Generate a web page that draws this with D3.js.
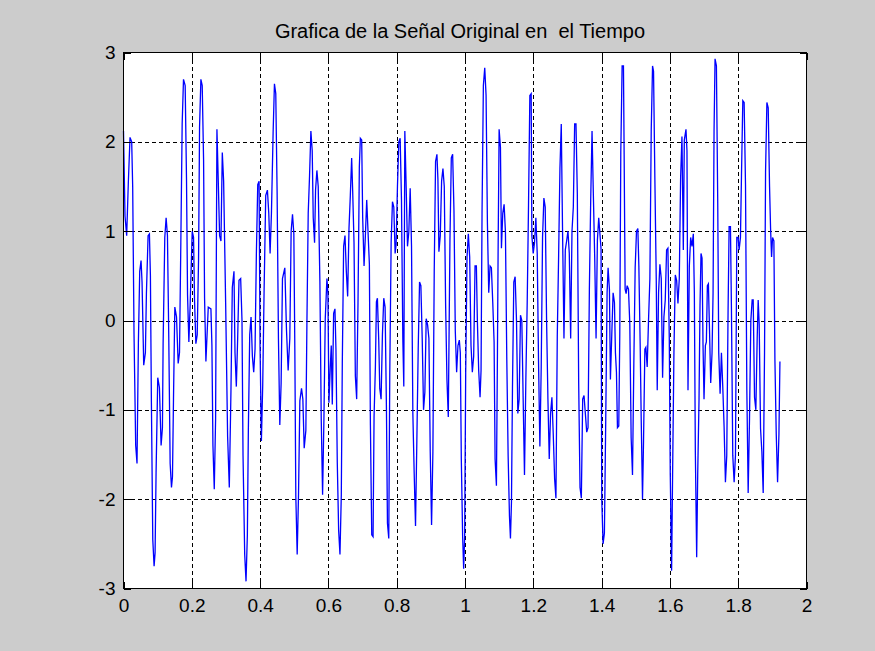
<!DOCTYPE html>
<html>
<head>
<meta charset="utf-8">
<script src="https://cdn.jsdelivr.net/npm/d3@7"></script>
<style>
  html, body { margin: 0; padding: 0; background: #cccccc; }
  svg { display: block; }
</style>
</head>
<body>
<script>
// Muestras de la señal: instante (s) y amplitud
const tiempo = [
  0.0000,0.0044,0.0093,0.0142,0.0191,0.0240,0.0269,0.0308,0.0357,0.0396,0.0436,0.0475,0.0514,0.0543,0.0592,0.0641,0.0671,0.0720,0.0759,0.0788,
  0.0817,0.0857,0.0896,0.0925,0.0954,0.1003,0.1052,0.1101,0.1140,0.1160,0.1209,0.1248,0.1287,0.1326,0.1366,0.1405,0.1434,0.1464,0.1503,0.1552,
  0.1601,0.1640,0.1679,0.1718,0.1757,0.1806,0.1845,0.1875,0.1914,0.1953,0.2012,0.2051,0.2080,0.2119,0.2159,0.2198,0.2227,0.2266,0.2305,
  0.2345,0.2374,0.2413,0.2482,0.2560,0.2589,0.2619,0.2658,0.2697,0.2736,0.2775,0.2814,0.2854,0.2893,0.2932,0.2991,0.3049,0.3098,0.3147,0.3186,
  0.3235,0.3265,0.3304,0.3343,0.3382,0.3431,0.3470,0.3500,0.3549,0.3588,0.3627,0.3656,0.3696,0.3735,0.3774,0.3813,0.3852,0.3891,0.3931,0.3970,
  0.3999,0.4038,0.4077,0.4116,0.4165,0.4214,0.4254,0.4293,0.4332,0.4381,0.4420,0.4459,0.4498,0.4537,0.4577,0.4616,0.4655,
  0.4724,0.4772,0.4821,0.4870,0.4909,0.4949,0.4988,0.5017,0.5046,0.5086,0.5125,0.5164,0.5213,0.5252,0.5291,0.5340,0.5370,0.5409,0.5448,0.5487,
  0.5526,0.5556,0.5595,0.5624,0.5663,0.5702,0.5751,0.5790,0.5830,0.5869,0.5908,0.5957,0.5986,0.6016,0.6055,0.6084,0.6114,0.6153,0.6192,0.6221,
  0.6260,0.6300,0.6339,0.6378,0.6407,0.6446,0.6486,0.6525,0.6564,0.6603,0.6642,0.6681,0.6711,0.6750,0.6789,0.6828,0.6867,0.6906,0.6936,0.6975,
  0.7004,0.7044,0.7083,0.7122,
  0.7200,0.7230,0.7269,0.7308,0.7337,0.7376,0.7406,0.7435,0.7474,0.7504,0.7543,0.7582,0.7621,0.7660,0.7700,0.7729,0.7768,0.7797,0.7837,0.7876,
  0.7915,0.7954,0.7983,0.8022,0.8062,0.8101,0.8140,0.8179,0.8208,0.8238,0.8277,0.8316,0.8355,0.8395,0.8434,0.8473,0.8512,0.8551,0.8590,0.8630,
  0.8669,0.8708,0.8747,0.8786,0.8825,0.8864,0.8904,0.8943,0.8982,0.9021,0.9060,0.9099,0.9138,0.9178,0.9207,0.9236,0.9276,0.9315,0.9354,0.9393,
  0.9432,0.9471,0.9511,
  0.9559,0.9599,0.9638,0.9677,0.9716,0.9755,0.9794,0.9834,0.9863,0.9892,0.9931,0.9961,0.9990,1.0020,1.0059,1.0098,1.0137,1.0176,1.0215,1.0254,
  1.0294,1.0333,1.0362,1.0401,1.0441,1.0470,1.0499,1.0538,1.0578,1.0617,1.0656,1.0695,1.0734,1.0773,1.0813,1.0852,1.0881,1.0920,1.0950,1.0969,
  1.0999,1.1038,1.1067,1.1106,1.1145,1.1184,1.1224,1.1263,1.1302,1.1331,1.1361,1.1390,1.1429,1.1468,1.1508,1.1547,1.1586,1.1625,1.1664,1.1703,
  1.1742,1.1782,1.1821,1.1860,1.1899,1.1938,
  1.1958,1.1997,1.2036,1.2075,1.2115,1.2154,1.2193,1.2232,1.2271,1.2310,1.2349,1.2389,1.2428,1.2467,1.2506,1.2545,1.2584,1.2624,1.2663,1.2702,
  1.2741,1.2780,1.2819,1.2859,1.2898,1.2937,1.2976,1.3015,1.3054,1.3094,1.3133,1.3172,1.3211,1.3250,1.3289,1.3329,1.3368,1.3407,1.3446,1.3485,
  1.3524,1.3564,1.3603,1.3642,1.3681,1.3720,1.3759,1.3798,1.3838,1.3877,1.3916,1.3955,1.3984,1.4004,1.4043,1.4082,1.4121,1.4161,1.4190,1.4229,
  1.4258,1.4298,1.4337,
  1.4376,1.4405,1.4435,1.4464,1.4503,1.4532,1.4562,1.4601,1.4640,1.4660,1.4689,1.4718,1.4748,1.4787,1.4826,1.4865,1.4905,1.4944,1.4983,1.5022,
  1.5061,1.5091,1.5130,1.5159,1.5198,1.5228,1.5267,1.5296,1.5335,1.5374,1.5414,1.5453,1.5492,1.5521,1.5560,1.5600,1.5629,1.5668,1.5707,1.5747,
  1.5786,1.5825,1.5864,1.5903,1.5942,1.5982,1.6011,1.6050,1.6079,1.6118,1.6158,1.6197,1.6236,1.6275,1.6314,1.6353,1.6393,1.6422,1.6471,1.6500,
  1.6530,1.6569,1.6608,1.6647,1.6686,1.6716,1.6745,
  1.6784,1.6814,1.6853,1.6882,1.6911,1.6941,1.6970,1.6999,1.7039,1.7068,1.7097,1.7127,1.7156,1.7195,1.7234,1.7264,1.7293,1.7322,1.7362,1.7401,
  1.7430,1.7470,1.7509,1.7548,1.7587,1.7626,1.7665,1.7704,1.7734,1.7773,1.7802,1.7841,1.7881,1.7920,1.7959,1.7998,1.8027,1.8066,1.8096,1.8135,
  1.8174,1.8214,1.8253,1.8292,1.8331,1.8370,1.8409,1.8439,1.8478,1.8517,1.8556,1.8585,1.8615,1.8654,1.8693,1.8732,1.8771,1.8801,1.8840,1.8879,
  1.8918,1.8948,1.8977,1.9006,1.9045,1.9075,1.9114,1.9153,1.9193,1.9222
];

const amplitud = [
  2.12,1.17,0.95,1.55,2.05,2.00,1.50,-0.15,-1.40,-1.60,-0.25,0.55,0.67,0.43,-0.50,-0.36,0.30,0.95,0.97,0.50,
  -0.92,-2.45,-2.75,-2.60,-1.70,-0.64,-0.75,-1.40,-1.20,-0.26,0.93,1.15,0.95,-0.20,-1.60,-1.87,-1.75,-0.88,0.15,0.04,
  -0.48,-0.36,0.87,2.20,2.70,2.63,1.58,0.29,-0.24,0.19,1.00,0.93,0.23,-0.26,-0.16,0.69,2.16,2.70,2.63,
  1.80,0.25,-0.46,0.15,0.13,-0.28,-1.40,-1.89,-1.10,2.14,1.56,0.95,0.89,1.88,1.56,0.20,-1.30,-1.87,-0.78,0.37,
  0.55,-0.36,-0.74,-0.20,0.45,0.47,0.00,-1.51,-2.62,-2.92,-2.40,-1.23,-0.16,0.04,-0.40,-0.58,-0.32,0.75,1.52,1.56,
  -0.30,-1.35,-0.72,0.31,1.40,1.46,1.20,0.75,1.20,2.10,2.65,2.54,1.44,-0.20,-1.17,-0.70,0.47,
  0.59,-0.10,-0.56,-0.20,1.00,1.19,0.97,-0.32,-1.97,-2.62,-1.95,-0.90,-0.76,-0.88,-1.43,-1.23,-0.06,1.20,1.62,2.12,
  1.90,1.15,0.87,1.46,1.68,1.50,0.43,-1.10,-1.95,-1.10,0.02,0.47,0.30,-0.92,-0.52,-0.28,-0.94,0.08,0.13,-0.32,
  -1.59,-2.35,-2.62,-1.95,-0.48,0.83,0.95,0.55,0.27,1.03,1.40,1.82,1.45,0.87,-0.62,-0.88,0.20,1.72,2.04,2.02,
  1.15,0.61,0.95,1.35,
  0.63,-1.17,-2.40,-2.42,-1.08,-0.52,0.21,0.25,-0.22,-0.76,-0.88,-0.16,0.25,0.15,-1.00,-2.27,-2.44,-0.60,0.87,1.33,
  1.27,0.75,0.85,1.50,2.00,2.04,1.35,-0.20,-0.74,2.12,1.50,0.83,0.99,1.48,0.83,-1.04,-1.71,-2.30,-1.35,-0.32,
  0.43,0.39,-0.20,-1.00,-0.80,0.02,-0.05,-0.20,-1.47,-2.29,-1.47,0.55,1.78,1.86,1.58,0.77,0.95,1.56,1.70,1.50,
  0.19,-0.66,-1.08,
  0.89,1.82,1.86,1.23,-0.12,-0.58,-0.28,-0.22,-0.36,-1.55,-2.42,-2.78,-2.42,-0.60,0.71,0.97,0.71,-0.28,-0.58,-0.40,
  0.61,0.61,0.00,-0.56,-0.86,-0.56,1.20,2.63,2.83,2.52,1.10,0.31,0.61,0.59,0.20,-0.24,-1.55,-1.85,-0.36,0.75,
  2.14,1.94,0.81,1.20,1.30,0.99,-0.44,-1.51,-2.19,-2.44,-2.03,-0.76,0.43,0.49,0.00,-1.04,-0.88,0.06,0.00,-0.88,
  -1.73,-0.66,0.19,1.29,2.52,2.54,
  0.95,0.75,0.87,1.15,0.75,-0.48,-1.41,-0.52,0.93,1.37,1.27,0.00,-0.88,-1.55,-1.04,-0.86,-1.27,-1.77,-1.99,-0.18,
  0.71,1.70,2.20,0.93,-0.20,0.79,0.89,1.00,0.75,-0.20,1.00,1.27,2.20,2.20,1.42,-0.70,-1.87,-1.99,-0.88,-0.84,
  -1.04,-1.25,-1.20,0.35,1.35,2.12,1.40,0.71,-0.20,0.90,1.15,0.95,0.80,-1.99,-2.50,-2.38,-1.12,0.31,0.59,0.35,
  -0.66,-0.16,0.31,
  0.20,-0.36,-0.58,-1.20,-1.18,-0.16,1.88,2.85,2.85,1.86,0.35,0.30,0.39,0.35,-0.04,-1.31,-1.73,-0.48,0.59,1.00,
  1.03,0.61,-0.28,-1.08,-2.00,-1.35,-0.32,-0.30,-0.52,0.00,0.47,2.12,2.85,2.79,1.58,0.47,-0.78,0.31,0.63,0.47,
  -0.64,0.04,0.23,0.79,0.81,-0.20,-1.73,-2.80,-1.73,-0.36,0.51,0.45,0.19,0.47,1.60,2.06,0.79,2.02,2.14,1.90,
  -0.78,0.61,0.93,0.83,0.97,0.31,-1.47,
  -2.65,-1.73,-0.88,0.17,0.75,0.70,-0.28,-0.88,-0.28,-0.24,0.39,0.41,-0.04,-0.70,-0.36,0.31,2.12,2.93,2.85,1.31,
  -0.36,-0.82,-0.36,-0.74,-1.19,-1.81,-1.51,0.13,1.05,1.05,0.13,-1.51,-1.81,-1.51,0.93,0.93,0.79,0.93,1.62,2.46,
  2.44,1.52,-0.78,-1.93,-1.10,0.00,0.23,0.23,-0.86,-1.00,-0.20,0.23,-0.04,-1.21,-1.47,-1.93,-0.36,1.66,2.44,2.38,
  1.50,1.03,0.71,0.93,0.89,-0.44,-1.27,-1.81,-1.27,-0.46
];

// Marcas y etiquetas de los ejes
const xTicks = [0, 0.2, 0.4, 0.6, 0.8, 1, 1.2, 1.4, 1.6, 1.8, 2];
const xTickLabels = ["0", "0.2", "0.4", "0.6", "0.8", "1", "1.2", "1.4", "1.6", "1.8", "2"];
const yTicks = [-3, -2, -1, 0, 1, 2, 3];
const yTickLabels = ["-3", "-2", "-1", "0", "1", "2", "3"];
const titulo = "Grafica de la Señal Original en  el Tiempo";

const W = 875, H = 651;
const area = { left: 123.5, right: 806.5, top: 52.5, bottom: 588.5 };

const x = d3.scaleLinear().domain([0, 2]).range([area.left, area.right]);
const y = d3.scaleLinear().domain([-3, 3]).range([area.bottom, area.top]);

const svg = d3.select("body").append("svg")
  .attr("width", W).attr("height", H);

svg.append("rect").attr("width", W).attr("height", H).attr("fill", "#cccccc");

// Fondo blanco de los ejes
svg.append("rect")
  .attr("x", area.left).attr("y", area.top)
  .attr("width", area.right - area.left).attr("height", area.bottom - area.top)
  .attr("fill", "#ffffff");

// Rejilla punteada
const grid = svg.append("g")
  .attr("stroke", "#000").attr("stroke-width", 1)
  .attr("stroke-dasharray", "4,3").attr("shape-rendering", "crispEdges");
grid.selectAll("line.gx").data(xTicks.slice(1, -1)).join("line")
  .attr("class", "gx")
  .attr("x1", d => Math.round(x(d)) + 0.5).attr("x2", d => Math.round(x(d)) + 0.5)
  .attr("y1", area.top).attr("y2", area.bottom);
grid.selectAll("line.gy").data(yTicks.slice(1, -1)).join("line")
  .attr("class", "gy")
  .attr("y1", d => Math.round(y(d)) + 0.5).attr("y2", d => Math.round(y(d)) + 0.5)
  .attr("x1", area.left).attr("x2", area.right);

// Señal
const puntos = tiempo.map((t, i) => [t, amplitud[i]]);
const linea = d3.line().x(d => x(d[0])).y(d => y(d[1]));
svg.append("path")
  .datum(puntos)
  .attr("d", linea)
  .attr("fill", "none")
  .attr("stroke", "#0000ff")
  .attr("stroke-width", 1.3)
  .attr("stroke-linejoin", "miter");

// Ejes con marcas hacia dentro en los cuatro lados
const fuente = "'Liberation Sans', Arial, sans-serif";
const tick = 7;

const ejeX = d3.axisBottom(x).tickValues(xTicks)
  .tickFormat((d, i) => xTickLabels[i]).tickSizeInner(-tick).tickSizeOuter(0).tickPadding(10);
const ejeY = d3.axisLeft(y).tickValues(yTicks)
  .tickFormat((d, i) => yTickLabels[i]).tickSizeInner(-tick).tickSizeOuter(0).tickPadding(8);
const ejeXsup = d3.axisTop(x).tickValues(xTicks).tickFormat("").tickSizeInner(-tick).tickSizeOuter(0);
const ejeYder = d3.axisRight(y).tickValues(yTicks).tickFormat("").tickSizeInner(-tick).tickSizeOuter(0);

function estilo(g) {
  g.attr("shape-rendering", "crispEdges");
  g.select(".domain").remove();
  g.selectAll(".tick line").attr("stroke", "#000");
  g.selectAll(".tick text").attr("fill", "#000")
    .style("font-family", fuente).style("font-size", "19px");
}

svg.append("g").attr("transform", `translate(0,${area.bottom})`).call(ejeX).call(estilo);
svg.append("g").attr("transform", `translate(${area.left},0)`).call(ejeY).call(estilo);
svg.append("g").attr("transform", `translate(0,${area.top})`).call(ejeXsup).call(estilo);
svg.append("g").attr("transform", `translate(${area.right},0)`).call(ejeYder).call(estilo);

// Marco de los ejes
svg.append("rect")
  .attr("x", area.left).attr("y", area.top)
  .attr("width", area.right - area.left).attr("height", area.bottom - area.top)
  .attr("fill", "none").attr("stroke", "#000").attr("stroke-width", 1)
  .attr("shape-rendering", "crispEdges");

// Título
svg.append("text")
  .attr("x", 460).attr("y", 38)
  .attr("text-anchor", "middle")
  .style("white-space", "pre")
  .style("font-family", fuente).style("font-size", "20px")
  .attr("fill", "#000")
  .text(titulo);
</script>
</body>
</html>
